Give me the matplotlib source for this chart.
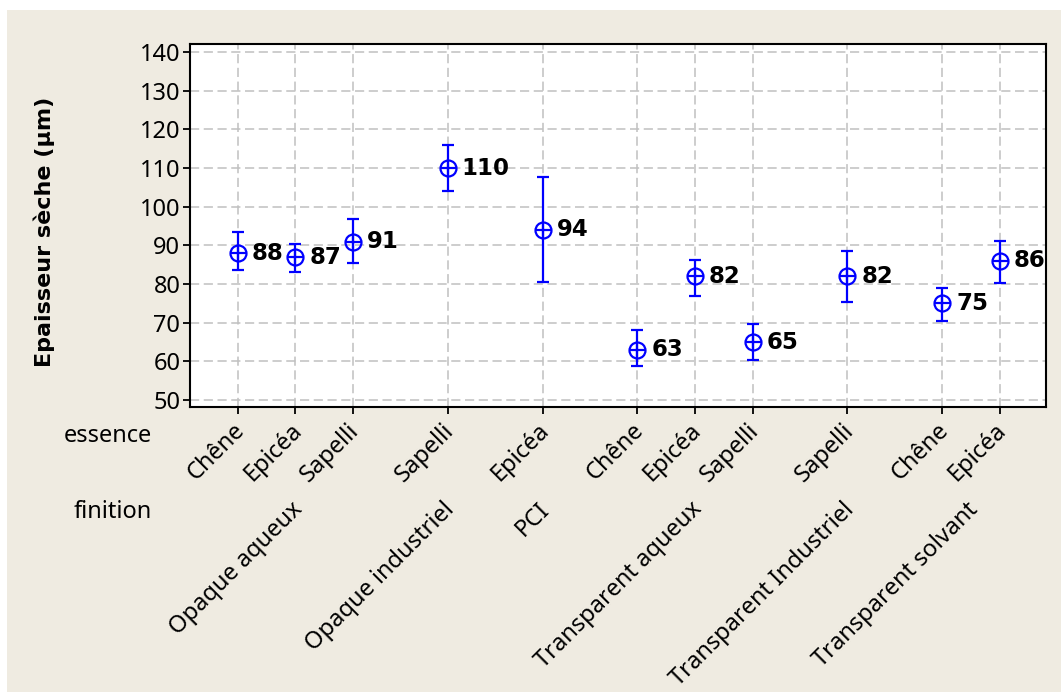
import matplotlib
matplotlib.use("Agg")
import matplotlib.pyplot as plt
from matplotlib.patches import Rectangle
from matplotlib.transforms import blended_transform_factory

# Interval plot of dry film thickness by finish type and wood species
finitions = ["Opaque aqueux", "Opaque industriel", "PCI",
             "Transparent aqueux", "Transparent Industriel", "Transparent solvant"]
essences = [["Chêne", "Epicéa", "Sapelli"],
            ["Sapelli"],
            ["Epicéa"],
            ["Chêne", "Epicéa", "Sapelli"],
            ["Sapelli"],
            ["Chêne", "Epicéa"]]
moyennes = [88, 87, 91, 110, 94, 63, 82, 65, 82, 75, 86]
ic_haut = [93.4, 90.4, 96.8, 116.0, 107.6, 68.1, 86.2, 69.6, 88.5, 78.9, 91.1]
ic_bas = [83.6, 83.0, 85.4, 104.2, 80.5, 58.8, 76.9, 60.3, 75.4, 70.5, 80.3]
y_ticks = [50, 60, 70, 80, 90, 100, 110, 120, 130, 140]
y_label = "Epaisseur sèche (µm)"

W, H = 1061, 692
fig = plt.figure(figsize=(W / 100, H / 100), dpi=100)
fig.patch.set_facecolor("white")
fig.add_artist(Rectangle((7 / W, 0), 1 - 7 / W, 1 - 10 / H,
                         transform=fig.transFigure, facecolor="#EFEBE1",
                         edgecolor="none", zorder=0))

ax = fig.add_axes([190 / W, 1 - 407 / H, (1046 - 190) / W, (407 - 44) / H])
ax.set_facecolor("white")

# x positions: one unit per level, extra gap between finish groups
gap = 0.645
xs, ess_labels, group_centres = [], [], []
k = 0
for g, ess in enumerate(essences):
    start = len(xs)
    for e in ess:
        xs.append(k + g * gap)
        ess_labels.append(e)
        k += 1
    group_centres.append(sum(xs[start:]) / len(ess))

blue = "#0000FF"
err_lo = [m - b for m, b in zip(moyennes, ic_bas)]
err_hi = [h - m for m, h in zip(moyennes, ic_haut)]
ax.errorbar(xs, moyennes, yerr=[err_lo, err_hi], fmt="none", ecolor=blue,
            elinewidth=1.6, capsize=4, capthick=1.6, zorder=3)
ax.plot(xs, moyennes, linestyle="none", marker="o", markersize=11.5,
        markerfacecolor="none", markeredgecolor=blue, markeredgewidth=1.6, zorder=4)
ax.plot(xs, moyennes, linestyle="none", marker="+", markersize=11.5,
        markeredgecolor=blue, markeredgewidth=1.6, zorder=4)

for x, m in zip(xs, moyennes):
    ax.annotate(f"{m}", (x, m), xytext=(10, 0), textcoords="offset points",
                ha="left", va="center", fontsize=16.5, fontweight="bold",
                family="DejaVu Sans", color="black", zorder=5)

ax.set_xlim(-0.83, xs[-1] + 0.8)
ax.set_ylim(48.2, 142.1)
ax.set_yticks(y_ticks)
ax.set_yticklabels([str(v) for v in y_ticks], family="Noto Sans", fontsize=17)
ax.set_xticks(xs)
ax.set_xticklabels([])

ax.grid(True, color="#C0C0C0", linewidth=1.1, linestyle=(0, (6, 3)))
ax.set_axisbelow(True)
for s in ax.spines.values():
    s.set_linewidth(1.5)
    s.set_color("black")
ax.tick_params(axis="both", direction="out", length=5, width=1.3, color="black", pad=2)

# two-level category labels below the axis
tr = blended_transform_factory(ax.transData, fig.transFigure)
for x, lab in zip(xs, ess_labels):
    ax.text(x + 0.05, 1 - 427 / H, lab, transform=tr, rotation=45,
            rotation_mode="anchor", ha="right", va="center",
            family="Noto Sans", fontsize=17, clip_on=False)
for xc, lab in zip(group_centres, finitions):
    ax.text(xc + 0.06, 1 - 506 / H, lab, transform=tr, rotation=45,
            rotation_mode="anchor", ha="right", va="center",
            family="Noto Sans", fontsize=17, clip_on=False)

fig.text(152 / W, 1 - 436 / H, "essence", ha="right", va="center",
         family="Noto Sans", fontsize=17)
fig.text(152 / W, 1 - 512 / H, "finition", ha="right", va="center",
         family="Noto Sans", fontsize=17)

fig.text(44 / W, 1 - 232 / H, y_label, rotation=90, ha="center", va="center",
         family="DejaVu Sans", fontweight="bold", fontsize=16)

fig.savefig("out.png", dpi=100, facecolor=fig.get_facecolor())
